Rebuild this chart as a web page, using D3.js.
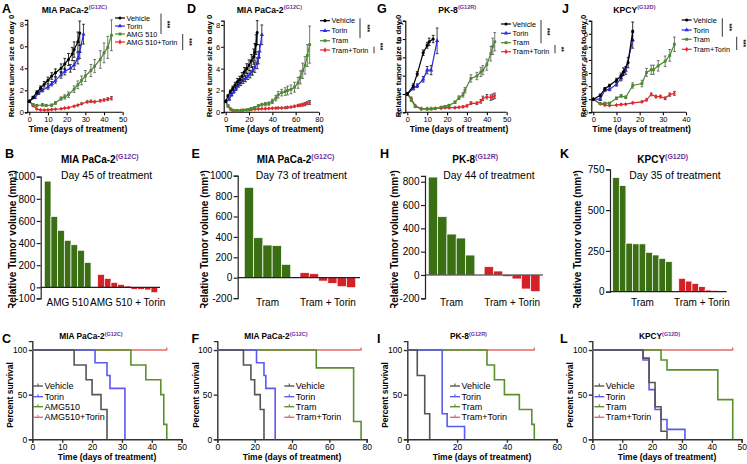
<!DOCTYPE html>
<html>
<head>
<meta charset="utf-8">
<script src="https://cdn.jsdelivr.net/npm/d3@7"></script>
<style>
  body { margin: 0; background: #fff; }
  svg { display: block; font-family: "Liberation Sans", Arial, Helvetica, sans-serif; }
</style>
</head>
<body>
<div id="chart"></div>
<script>
var W = 747, H = 464;
var purple = "#7030a0";

// ---- tick values ----
var xTicks50 = [0, 10, 20, 30, 40, 50];
var xTicks80 = [0, 20, 40, 60, 80];
var xTicks40 = [0, 10, 20, 30, 40];
var xTicks60 = [0, 20, 40, 60];
var yTicks8 = [0, 2, 4, 6, 8];
var yTicks5 = [0, 1, 2, 3, 4, 5];
var yTicks7 = [0, 1, 2, 3, 4, 5, 6, 7];
var barTicksB = [-100, 0, 200, 400, 600, 800, 1000];
var barTicksE = [-200, 0, 200, 400, 600, 800, 1000];
var barTicksH = [-200, 0, 200, 400, 600, 800];
var barTicksK = [0, 250, 500, 750];
var survTicks = [0, 50, 100];

// ---- series names ----
var namesAMG = ["Vehicle", "Torin", "AMG 510", "AMG 510+Torin"];
var namesTram = ["Vehicle", "Torin", "Tram", "Tram+Torin"];
var survNamesAMG = ["Vehicle", "Torin", "AMG510", "AMG510+Torin"];

// ---- tumour growth: [day, mean, sem] ----
var aVehicle = [[0,1,0.05],[2,1.35,0.1],[4,1.8,0.15],[6,2.2,0.2],[8,2.55,0.25],[10,2.9,0.3],[12,3.3,0.3],[14,3.6,0.35],[17,4.0,0.4],[19,4.4,0.5],[21,4.8,0.55],[23,5.3,0.6],[24,5.7,0.7],[26,6.4,0.9],[27,7.2,1.1]];
var aTorin = [[0,1,0.05],[3,1.35,0.1],[5,1.75,0.12],[7,2.0,0.15],[10,2.3,0.2],[12,2.6,0.2],[14,2.9,0.25],[17,3.4,0.3],[19,3.7,0.3],[22,4.0,0.35],[24,4.3,0.4],[26,4.9,0.5],[27,5.5,0.6],[29,7.1,0.9]];
var aAmg = [[0,1,0.05],[2,0.7,0.1],[4,0.62,0.1],[7,0.68,0.12],[9,0.62,0.1],[12,0.65,0.1],[14,0.85,0.12],[17,1.25,0.15],[19,1.4,0.2],[21,1.6,0.25],[24,2.1,0.3],[26,2.5,0.35],[28,2.9,0.4],[30,3.3,0.5],[33,3.8,0.55],[35,4.2,0.6],[38,4.8,0.8],[40,5.4,0.9],[42,5.9,1.0],[44,7.0,1.4]];
var aCombo = [[0,1,0.05],[2,0.6,0.05],[4,0.3,0.05],[6,0.22,0.04],[8,0.2,0.04],[10,0.22,0.04],[12,0.25,0.04],[14,0.28,0.04],[17,0.32,0.04],[19,0.38,0.05],[21,0.42,0.05],[24,0.55,0.06],[26,0.65,0.06],[28,0.78,0.07],[31,0.95,0.08],[33,1.0,0.1],[35,0.95,0.08],[38,1.05,0.1],[40,1.12,0.1],[42,1.2,0.12],[44,1.28,0.15]];

var dVehicle = [[0,1,0.05],[2,1.5,0.1],[4,1.9,0.15],[6,2.2,0.2],[8,2.5,0.25],[10,2.8,0.3],[12,3.0,0.3],[14,3.3,0.35],[16,3.7,0.4],[18,4.0,0.45],[20,4.3,0.5],[22,4.7,0.6],[24,5.1,0.7],[25,5.5,0.8],[26,6.2,0.9],[27,7.3,1.1]];
var dTorin = [[0,1,0.05],[3,1.2,0.1],[5,1.6,0.12],[7,1.9,0.15],[9,2.2,0.2],[11,2.5,0.2],[13,2.7,0.25],[15,2.9,0.25],[17,3.1,0.3],[19,3.3,0.3],[21,3.5,0.35],[23,3.8,0.4],[25,4.1,0.45],[27,4.5,0.5],[28,5.0,0.55],[29,5.6,0.6],[31,7.1,0.9]];
var dTram = [[0,1,0.05],[2,0.6,0.08],[4,0.3,0.05],[6,0.18,0.03],[8,0.15,0.03],[10,0.15,0.03],[13,0.18,0.03],[15,0.2,0.04],[18,0.22,0.04],[20,0.25,0.05],[22,0.35,0.06],[25,0.45,0.08],[28,0.6,0.1],[31,0.7,0.12],[34,0.75,0.15],[37,0.8,0.15],[40,1.0,0.2],[43,1.3,0.25],[45,1.6,0.3],[48,1.8,0.3],[51,1.9,0.35],[53,2.0,0.4],[56,2.1,0.4],[59,2.3,0.45],[62,2.7,0.5],[64,3.2,0.6],[66,3.8,0.7],[68,4.3,0.8],[70,5.2,1.0],[72,6.2,1.7]];
var dCombo = [[0,1,0.05],[2,0.55,0.05],[4,0.3,0.04],[6,0.18,0.03],[8,0.15,0.03],[10,0.15,0.03],[13,0.16,0.03],[15,0.18,0.03],[18,0.2,0.03],[20,0.22,0.03],[22,0.25,0.04],[25,0.28,0.04],[28,0.3,0.04],[31,0.32,0.04],[34,0.33,0.05],[37,0.35,0.05],[40,0.37,0.05],[43,0.38,0.05],[45,0.4,0.06],[48,0.4,0.06],[51,0.42,0.06],[53,0.45,0.06],[56,0.48,0.07],[59,0.55,0.08],[62,0.62,0.1],[64,0.65,0.1],[66,0.7,0.12],[68,0.75,0.15],[70,0.85,0.15],[72,0.9,0.18]];

var gVehicle = [[0,1,0.05],[3,1.45,0.1],[5,2.1,0.12],[8,3.25,0.15],[10,3.65,0.15],[11,3.85,0.2],[13,4.0,0.2]];
var gTorin = [[0,1,0.05],[3,1.3,0.08],[5,1.45,0.1],[8,1.8,0.15],[10,2.3,0.2],[12,2.3,0.25],[15,3.9,0.7]];
var gTram = [[0,1,0.05],[2,0.67,0.08],[4,0.31,0.05],[7,0.18,0.03],[10,0.17,0.03],[12,0.18,0.03],[14,0.2,0.03],[17,0.28,0.04],[19,0.32,0.04],[21,0.38,0.05],[24,0.55,0.07],[26,0.8,0.1],[28,0.95,0.12],[29,1.2,0.15],[32,1.85,0.2],[35,1.98,0.2],[37,2.2,0.25],[38,2.3,0.25],[40,2.6,0.3],[42,3.2,0.4],[43,3.6,0.45],[44,3.85,0.5]];
var gCombo = [[0,1,0.05],[2,0.75,0.08],[4,0.35,0.05],[7,0.2,0.03],[10,0.2,0.03],[12,0.2,0.03],[14,0.22,0.03],[17,0.22,0.03],[19,0.25,0.03],[21,0.25,0.04],[24,0.25,0.04],[26,0.28,0.04],[28,0.3,0.05],[30,0.35,0.05],[32,0.5,0.07],[35,0.49,0.07],[37,0.6,0.1],[38,0.76,0.12],[40,0.85,0.12],[42,0.8,0.15],[43,0.85,0.15],[44,0.9,0.15]];

var jVehicle = [[0,1,0.05],[3,1.3,0.1],[5,1.8,0.1],[7,2.05,0.1],[10,2.45,0.15],[12,2.8,0.2],[13,3.1,0.3],[15,3.8,0.4],[17,6.2,0.7]];
var jTorin = [[0,1,0.05],[3,1.0,0.1],[5,1.7,0.1],[7,1.75,0.1],[10,2.15,0.15],[12,2.6,0.2],[14,3.2,0.3],[17,5.5,0.6]];
var jTram = [[0,1,0.05],[3,0.65,0.05],[5,0.7,0.05],[7,0.7,0.05],[10,1.07,0.1],[12,1.25,0.1],[14,1.15,0.1],[17,2.05,0.2],[21,2.2,0.25],[23,3.05,0.3],[25,3.25,0.35],[26,3.25,0.35],[28,3.55,0.4],[31,3.9,0.4],[33,4.35,0.45],[35,5.2,0.55]];
var jCombo = [[0,1,0.05],[3,0.65,0.05],[5,0.55,0.05],[7,0.52,0.04],[10,0.55,0.04],[12,0.6,0.05],[14,0.62,0.05],[17,0.72,0.06],[21,0.8,0.06],[23,0.95,0.08],[25,1.37,0.1],[27,1.2,0.1],[29,1.2,0.1],[31,1.07,0.1],[33,1.35,0.12],[35,1.45,0.15]];

// ---- waterfall bars (mm3) ----
var bGreen = [960, 640, 515, 425, 385, 335, 225];
var bRed = [117, 81, 45, 27, 12, -18, -18, -24, -48];
var eGreen = [886, 392, 320, 314, 131];
var eRed = [49, 39, -33, -56, -88, -98];
var hGreen = [840, 500, 351, 317, 171];
var hRed = [71, 34, -14, -34, -120, -143];
var kGreen = [699, 650, 297, 293, 293, 241, 225, 204, 184];
var kRed = [82, 65, 51, 31, 10, 8, 4];

// ---- survival: [day, percent] ----
var cVehicle = [[0,100],[14,83.3],[18,66.7],[20,50],[23,33.3],[25,0]];
var cTorin = [[0,100],[21,85.7],[25,71.4],[26,57.1],[31,0]];
var cAmg = [[0,100],[33,83.3],[38,66.7],[43,50],[44,16.7],[45,0]];
var cCombo = [[0,100],[45,100]];
var fVehicle = [[0,100],[14,83.3],[18,66.7],[20,50],[23,33.3],[25,0]];
var fTorin = [[0,100],[21,85.7],[25,71.4],[26,57.1],[31,0]];
var fTram = [[0,100],[53,80],[73,20],[77,0]];
var fCombo = [[0,100],[77,100]];
var iVehicle = [[0,100],[4,71.4],[7,28.6],[9,0]];
var iTorin = [[0,100],[14,28.6],[16,14.3],[23,0]];
var iTram = [[0,100],[32,83.3],[35,66.7],[39,50],[45,33.3],[50,16.7],[51,0]];
var iCombo = [[0,100],[51,100]];
var lVehicle = [[0,100],[17,90.9],[19,63.6],[21,36.4],[23,9.1],[25,0]];
var lTorin = [[0,100],[17,88.9],[19,55.6],[21,33.3],[23,22.2],[25,11.1],[31,0]];
var lTram = [[0,100],[23,88.9],[25,77.8],[42,44.4],[47,0]];
var lCombo = [[0,100],[47,100]];

var growthColors = ["#000000", "#2b2be0", "#4b8b2b", "#e8262c"];
var growthErr = ["#000000", "#111111", "#555555", "#333333"];
var growthSyms = [d3.symbolCircle, d3.symbolTriangle, d3.symbolSquare, d3.symbolDiamond];
var survColors = ["#555555", "#5a5af2", "#5c8f2e", "#e36a6a"];
var barGreen = "#3b6f14", barRed = "#d62028";
var plain = function(d) { return String(d); };

var svg = d3.select("#chart").append("svg").attr("width", W).attr("height", H);
svg.append("rect").attr("width", W).attr("height", H).attr("fill", "#fff");
svg.append("clipPath").attr("id", "row2clip")
  .append("rect").attr("x", 0).attr("y", 130).attr("width", W).attr("height", 178);

function styleAxis(sel, size, w, col) {
  sel.attr("font-family", null).attr("font-size", size);
  sel.selectAll("path,line").attr("stroke", col || "#000").attr("stroke-width", w);
  sel.selectAll("text").attr("fill", "#000");
}

function title(g, x, y, main, sup, size, supSize) {
  var t = g.append("text").attr("x", x).attr("y", y)
    .attr("font-size", size).attr("font-weight", "bold");
  t.append("tspan").text(main);
  t.append("tspan").attr("dy", -size * 0.4).attr("font-size", supSize)
    .attr("fill", purple).text(sup);
}

function letter(x, y, s) {
  svg.append("text").attr("x", x).attr("y", y).attr("font-size", 12.5)
    .attr("font-weight", "bold").text(s);
}

function vlabel(g, x, cy, s, size) {
  g.append("text").attr("transform", "translate(" + x + "," + cy + ") rotate(-90)")
    .attr("text-anchor", "middle").attr("font-size", size)
    .attr("font-weight", "bold").text(s);
}

function sig(g, x, y1, y2, tx, ty, txt) {
  g.append("line").attr("x1", x).attr("x2", x).attr("y1", y1).attr("y2", y2)
    .attr("stroke", "#000").attr("stroke-width", 0.8);
  g.append("text").attr("transform", "translate(" + tx + "," + ty + ") rotate(90)")
    .attr("text-anchor", "middle").attr("font-size", 6.5).attr("font-weight", "bold")
    .text(txt);
}

// ---------- growth curves ----------
function growthPanel(p) {
  var g = svg.append("g");
  var x = d3.scaleLinear().domain(p.xDomain).range([p.x0, p.x1]);
  var y = d3.scaleLinear().domain(p.yDomain).range([112.3, p.yTop]);

  var gx = g.append("g").attr("transform", "translate(0,112.3)")
    .call(d3.axisBottom(x).tickValues(p.xTicks).tickFormat(plain).tickSize(3).tickPadding(1));
  gx.select(".domain").attr("d", "M" + (p.x0 - 2) + ",0H" + p.x1);
  styleAxis(gx, 7.5, 1.1);
  var gy = g.append("g").attr("transform", "translate(" + (p.x0 - 2) + ",0)")
    .call(d3.axisLeft(y).tickValues(p.yTicks).tickFormat(plain).tickSize(2.5).tickPadding(1));
  styleAxis(gy, 7.5, 1.1);

  vlabel(g, p.ylx, 66, "Relative tumor size to day 0", 7.8);
  g.append("text").attr("x", (p.x0 + p.x1) / 2 + 2).attr("y", 131.5)
    .attr("text-anchor", "middle").attr("font-size", 8.5).attr("font-weight", "bold")
    .text("Time (days of treatment)");
  title(g, p.tx, 12.5, p.title, p.sup, 8.6, 5.6);

  var line = d3.line()
    .x(function(d) { return x(d[0]); })
    .y(function(d) { return y(d[1]); });

  [3, 2, 1, 0].forEach(function(i) {
    var data = p.series[i];
    var col = growthColors[i];
    var eb = g.append("g").attr("stroke", growthErr[i]).attr("stroke-width", 0.8);
    data.forEach(function(d) {
      var yt = y(d[1] + d[2]), yb = y(Math.max(0, d[1] - d[2])), xx = x(d[0]);
      eb.append("line").attr("x1", xx).attr("x2", xx).attr("y1", yt).attr("y2", yb);
      eb.append("line").attr("x1", xx - 1.4).attr("x2", xx + 1.4).attr("y1", yt).attr("y2", yt);
      eb.append("line").attr("x1", xx - 1.4).attr("x2", xx + 1.4).attr("y1", yb).attr("y2", yb);
    });
    g.append("path").datum(data).attr("d", line)
      .attr("fill", "none").attr("stroke", col).attr("stroke-width", 1.2);
    g.selectAll(null).data(data).enter().append("path")
      .attr("transform", function(d) { return "translate(" + x(d[0]) + "," + y(d[1]) + ")"; })
      .attr("d", d3.symbol().type(growthSyms[i]).size(i == 3 ? 6 : 8))
      .attr("fill", col);
  });

  // legend
  p.names.forEach(function(n, i) {
    var ly = p.ly[i];
    g.append("line").attr("x1", p.lx).attr("x2", p.lx + 10).attr("y1", ly).attr("y2", ly)
      .attr("stroke", growthColors[i]).attr("stroke-width", 1.2);
    g.append("path").attr("transform", "translate(" + (p.lx + 5) + "," + ly + ")")
      .attr("d", d3.symbol().type(growthSyms[i]).size(8)).attr("fill", growthColors[i]);
    g.append("text").attr("x", p.lx + 11.5).attr("y", ly + 2.6)
      .attr("font-size", 7.3).text(n);
  });
  p.sigs.forEach(function(s) { sig(g, s[0], s[1], s[2], s[3], s[4], s[5]); });
}

growthPanel({ x0: 29.3, x1: 122.7, xDomain: [0, 50], xTicks: xTicks50,
  yDomain: [0, 8.4], yTop: 19.9, yTicks: yTicks8, ylx: 13.8,
  tx: 41.7, title: "MIA PaCa-2", sup: "(G12C)",
  series: [aVehicle, aTorin, aAmg, aCombo], names: namesAMG,
  lx: 115, ly: [18, 26, 34, 42],
  sigs: [[161, 13.5, 34, 165, 24.5, "***"], [182.7, 34, 50, 186.7, 42, "***"]] });

growthPanel({ x0: 225.7, x1: 319, xDomain: [0, 80], xTicks: xTicks80,
  yDomain: [0, 8.4], yTop: 20.6, yTicks: yTicks8, ylx: 211.8,
  tx: 236.7, title: "MIA PaCa-2", sup: "(G12C)",
  series: [dVehicle, dTorin, dTram, dCombo], names: namesTram,
  lx: 320, ly: [20.7, 30.7, 40.7, 50],
  sigs: [[360, 18.3, 38.3, 365, 28.3, "***"], [374, 46.7, 53.3, 378.3, 46.5, "***"]] });

growthPanel({ x0: 407.3, x1: 506.7, xDomain: [0, 50], xTicks: xTicks50,
  yDomain: [0, 5], yTop: 20.7, yTicks: yTicks5, ylx: 400.5,
  tx: 438.3, title: "PK-8", sup: "(G12R)",
  series: [gVehicle, gTorin, gTram, gCombo], names: namesTram,
  lx: 501, ly: [24, 33.3, 42.7, 51.7],
  sigs: [[541, 20, 43.3, 545, 31.7, "***"], [555, 45, 53.3, 559, 49.3, "**"]] });

growthPanel({ x0: 593.3, x1: 686, xDomain: [0, 40], xTicks: xTicks40,
  yDomain: [0, 7], yTop: 20.7, yTicks: yTicks7, ylx: 585.8,
  tx: 613.3, title: "KPCY", sup: "(G12D)",
  series: [jVehicle, jTorin, jTram, jCombo], names: namesTram,
  lx: 681.7, ly: [20, 30, 39.3, 49.3],
  sigs: [[722.3, 18.3, 36.7, 726.7, 27.3, "***"], [736.7, 36.7, 50, 740.7, 43.3, "***"]] });

// ---------- waterfall bars ----------
function barPanel(p) {
  var g = svg.append("g").attr("clip-path", "url(#row2clip)");
  var n = p.green.length + 1 + p.red.length;
  var x = d3.scaleBand().domain(d3.range(n)).range([p.b0, p.b1]).padding(0);
  var y = d3.scaleLinear().domain(p.yDomain).range(p.yRange);

  var gy = g.append("g").attr("transform", "translate(" + p.ax + ",0)")
    .call(d3.axisLeft(y).tickValues(p.ticks).tickFormat(plain).tickSize(4).tickPadding(1.5));
  styleAxis(gy, 10, 1.2, "#222");

  var vals = p.green.map(function(v, i) { return { i: i, v: v, c: barGreen }; })
    .concat(p.red.map(function(v, j) { return { i: p.green.length + 1 + j, v: v, c: barRed }; }));
  g.selectAll(null).data(vals).enter().append("rect")
    .attr("x", function(d) { return x(d.i); })
    .attr("width", x.bandwidth())
    .attr("y", function(d) { return y(Math.max(0, d.v)); })
    .attr("height", function(d) { return Math.abs(y(d.v) - y(0)); })
    .attr("fill", function(d) { return d.c; })
    .attr("stroke", "#fff").attr("stroke-width", 0.7);

  g.append("line").attr("x1", p.ax).attr("x2", p.zx).attr("y1", y(0)).attr("y2", y(0))
    .attr("stroke", "#222").attr("stroke-width", 1.2);

  var gc = x(0) + x.bandwidth() * p.green.length / 2;
  var rc = x(p.green.length + 1) + x.bandwidth() * p.red.length / 2;
  g.append("text").attr("x", gc).attr("y", 305.5).attr("text-anchor", "middle")
    .attr("font-size", 10).text(p.gLabel);
  g.append("text").attr("x", rc).attr("y", 305.5).attr("text-anchor", "middle")
    .attr("font-size", 10).text(p.rLabel);

  vlabel(g, p.ylx, 240, "Relative Tumor volume (mm\u00b3)", 10);
  title(g, p.tx, 163, p.title, p.sup, 10, 7);
  g.append("text").attr("x", p.dx).attr("y", 179).attr("font-size", 10.4).text(p.day);
}

barPanel({ green: bGreen, red: bRed, b0: 44.3, b1: 157.7, ax: 40.7, zx: 160,
  yDomain: [-100, 1000], yRange: [298.4, 176.7], ticks: barTicksB, ylx: 15.5,
  gLabel: "AMG 510", rLabel: "AMG 510 + Torin",
  tx: 61, title: "MIA PaCa-2", sup: "(G12C)", dx: 61, day: "Day 45 of treatment" });
barPanel({ green: eGreen, red: eRed, b0: 244.3, b1: 355.7, ax: 237.7, zx: 360,
  yDomain: [-200, 1000], yRange: [298.1, 175.7], ticks: barTicksE, ylx: 207.5,
  gLabel: "Tram", rLabel: "Tram + Torin",
  tx: 256.7, title: "MIA PaCa-2", sup: "(G12C)", dx: 255.7, day: "Day 73 of treatment" });
barPanel({ green: hGreen, red: hRed, b0: 428.3, b1: 540, ax: 425, zx: 543,
  yDomain: [-200, 850], yRange: [298.3, 175.9], ticks: barTicksH, ylx: 397.5,
  gLabel: "Tram", rLabel: "Tram + Torin",
  tx: 452.3, title: "PK-8", sup: "(G12R)", dx: 443.3, day: "Day 44 of treatment" });
barPanel({ green: kGreen, red: kRed, b0: 612.7, b1: 725, ax: 610, zx: 726.7,
  yDomain: [0, 750], yRange: [291.7, 169.3], ticks: barTicksK, ylx: 581,
  gLabel: "Tram", rLabel: "Tram + Torin",
  tx: 637.3, title: "KPCY", sup: "(G12D)", dx: 629.3, day: "Day 35 of treatment" });

// ---------- survival ----------
function survPanel(p) {
  var g = svg.append("g");
  var x = d3.scaleLinear().domain(p.xDomain).range([p.x0, p.x0 + 149.4]);
  var y = d3.scaleLinear().domain([0, 110]).range([439.3, 341.1]);

  var gx = g.append("g").attr("transform", "translate(0,439.3)")
    .call(d3.axisBottom(x).tickValues(p.xTicks).tickFormat(plain).tickSize(3.5).tickPadding(1.5));
  styleAxis(gx, 8.5, 1.4, "#333");
  var gy = g.append("g").attr("transform", "translate(" + p.x0 + ",0)")
    .call(d3.axisLeft(y).tickValues(survTicks).tickFormat(plain).tickSize(3.5).tickPadding(1.5));
  styleAxis(gy, 8.5, 1.4, "#333");

  vlabel(g, p.ylx, 395, "Percent survival", 8.5);
  g.append("text").attr("x", p.x0 + 74.7).attr("y", 459.5).attr("text-anchor", "middle")
    .attr("font-size", 8.5).attr("font-weight", "bold").text("Time (days of treatment)");
  title(g, p.tx, 339.3, p.title, p.sup, 8.3, 5.5);

  var line = d3.line().curve(d3.curveStepAfter)
    .x(function(d) { return x(d[0]); })
    .y(function(d) { return y(d[1]); });
  [3, 2, 1, 0].forEach(function(i) {
    g.append("path").datum(p.series[i]).attr("d", line)
      .attr("fill", "none").attr("stroke", survColors[i]).attr("stroke-width", 1.6);
  });
  var last = p.series[3][p.series[3].length - 1];
  g.append("line").attr("x1", x(last[0])).attr("x2", x(last[0]))
    .attr("y1", y(last[1]) - 2.5).attr("y2", y(last[1]) + 0.5)
    .attr("stroke", survColors[3]).attr("stroke-width", 1.3);

  var ly = [386, 396.7, 406.7, 417.3];
  p.names.forEach(function(n, i) {
    g.append("line").attr("x1", p.lx).attr("x2", p.lx + 10).attr("y1", ly[i]).attr("y2", ly[i])
      .attr("stroke", survColors[i]).attr("stroke-width", 1.4);
    g.append("line").attr("x1", p.lx + 5).attr("x2", p.lx + 5).attr("y1", ly[i] - 2.5).attr("y2", ly[i])
      .attr("stroke", survColors[i]).attr("stroke-width", 1.1);
    g.append("text").attr("x", p.lx + 11.5).attr("y", ly[i] + 3.1)
      .attr("font-size", 9).text(n);
  });
}

survPanel({ x0: 32.3, xDomain: [0, 50], xTicks: xTicks50, ylx: 13.3,
  tx: 59.3, title: "MIA PaCa-2", sup: "(G12C)",
  series: [cVehicle, cTorin, cAmg, cCombo], names: survNamesAMG, lx: 33 });
survPanel({ x0: 217.3, xDomain: [0, 80], xTicks: xTicks80, ylx: 198.7,
  tx: 244.3, title: "MIA PaCa-2", sup: "(G12C)",
  series: [fVehicle, fTorin, fTram, fCombo], names: namesTram, lx: 284.3 });
survPanel({ x0: 407.3, xDomain: [0, 60], xTicks: xTicks60, ylx: 388,
  tx: 450, title: "PK-8", sup: "(G12R)",
  series: [iVehicle, iTorin, iTram, iCombo], names: namesTram, lx: 450 });
survPanel({ x0: 592.3, xDomain: [0, 50], xTicks: xTicks50, ylx: 573.3,
  tx: 639, title: "KPCY", sup: "(G12D)",
  series: [lVehicle, lTorin, lTram, lCombo], names: namesTram, lx: 594.3 });

// panel letters
letter(2, 13, "A"); letter(187, 13, "D"); letter(377, 13, "G"); letter(562, 13, "J");
letter(5, 158, "B"); letter(191.5, 158, "E"); letter(380, 158, "H"); letter(560, 158, "K");
letter(2, 343, "C"); letter(191.5, 343, "F"); letter(377, 343, "I"); letter(560, 343, "L");
</script>
</body>
</html>
